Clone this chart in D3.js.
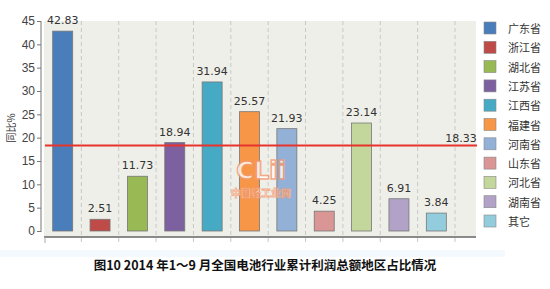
<!DOCTYPE html>
<html>
<head>
<meta charset="utf-8">
<script src="https://cdn.jsdelivr.net/npm/d3@7"></script>
<style>
  body { margin: 0; background: #fff; }
  text { font-family: "Noto Sans CJK SC", "DejaVu Sans", sans-serif; }
</style>
</head>
<body>
<div id="chart"></div>
<script>
// Data
const regions = ["广东省", "浙江省", "湖北省", "江苏省", "江西省", "福建省", "河南省", "山东省", "河北省", "湖南省", "其它"];
const values = [42.83, 2.51, 11.73, 18.94, 31.94, 25.57, 21.93, 4.25, 23.14, 6.91, 3.84];
const average = 18.33;
const yTicks = [0, 5, 10, 15, 20, 25, 30, 35, 40, 45];
const colorList = ["#4a7ebb", "#be4b48", "#98b954", "#7d60a0", "#46aac5", "#f79646", "#93b1d6", "#d99694", "#c3d69b", "#b3a2c7", "#93cddd"];

const W = 550, H = 289;
const plot = { left: 44, right: 476, top: 21, bottom: 231 };

const svg = d3.select("#chart").append("svg")
  .attr("width", W).attr("height", H);

// light strip under chart
svg.append("rect").attr("x", 0).attr("y", 250).attr("width", 505).attr("height", 7)
  .attr("fill", "#f3f9fd");

// plot background
svg.append("rect")
  .attr("x", plot.left).attr("y", plot.top)
  .attr("width", plot.right - plot.left).attr("height", 237 - plot.top)
  .attr("fill", "#efefe9");

const x = d3.scaleBand().domain(regions).range([44, 455]).paddingInner(0).paddingOuter(0);
const y = d3.scaleLinear().domain([0, 45]).range([plot.bottom, plot.top]);
const colors = d3.scaleOrdinal(regions, colorList);

// dashed vertical gridlines at band edges
const edges = regions.map((r) => x(r) + x.bandwidth());
svg.selectAll(".grid").data(edges).enter().append("line")
  .attr("x1", (d) => d).attr("x2", (d) => d)
  .attr("y1", plot.top).attr("y2", 243)
  .attr("stroke", "#c8c8c8").attr("stroke-dasharray", "4,3");

// y axis
const yAxis = svg.append("g")
  .attr("transform", "translate(41,0)")
  .call(d3.axisLeft(y).tickValues(yTicks).tickSize(4).tickPadding(2));
yAxis.select(".domain").attr("stroke", "#777").attr("d", "M0," + plot.top + "V" + (plot.bottom + 1));
yAxis.selectAll(".tick line").attr("stroke", "#777");
yAxis.selectAll(".tick text").attr("fill", "#444").style("font-size", "12px")
  .style("font-family", "'Liberation Sans', Arial, sans-serif");

// bottom axis line
svg.append("line")
  .attr("x1", 44).attr("x2", plot.right)
  .attr("y1", 237).attr("y2", 237)
  .attr("stroke", "#666").attr("stroke-width", 1.5);
svg.append("line")
  .attr("x1", 45).attr("x2", 45).attr("y1", 237).attr("y2", 243)
  .attr("stroke", "#aaa");

// y label
svg.append("text")
  .attr("transform", "translate(15,128) rotate(-90)")
  .attr("text-anchor", "middle")
  .attr("fill", "#333").style("font-size", "10px")
  .text("同比%");

// bars
const bw = 20;
const bars = svg.selectAll(".bar").data(regions).enter();
bars.append("rect")
  .attr("x", (d) => x(d) + (x.bandwidth() - bw) / 2)
  .attr("y", (d, i) => y(values[i]))
  .attr("width", bw)
  .attr("height", (d, i) => y(0) - y(values[i]))
  .attr("fill", (d) => colors(d))
  .attr("stroke", "#777").attr("stroke-width", 0.8);

bars.append("text")
  .attr("x", (d) => x(d) + x.bandwidth() / 2)
  .attr("y", (d, i) => y(values[i]) - 7)
  .attr("text-anchor", "middle")
  .attr("fill", "#333")
  .style("font-size", "11px")
  .style("font-family", "'DejaVu Sans', sans-serif")
  .text((d, i) => values[i].toFixed(2));

// watermark
const wm = svg.append("g").attr("opacity", 0.8);
wm.append("text").attr("x", 261).attr("y", 179).attr("text-anchor", "middle")
  .attr("fill", "#fff").attr("stroke", "#f39a70").attr("stroke-width", 1.5)
  .style("font-size", "24px").style("font-weight", "bold")
  .style("font-family", "'DejaVu Sans', sans-serif")
  .text("CLii");
wm.append("text").attr("x", 261).attr("y", 197).attr("text-anchor", "middle")
  .attr("fill", "#fff").attr("stroke", "#f39a70").attr("stroke-width", 0.8)
  .style("font-size", "10px").style("font-weight", "bold")
  .text("中国轻工业网");

// average line
svg.append("line")
  .attr("x1", 45).attr("x2", 477)
  .attr("y1", y(average)).attr("y2", y(average))
  .attr("stroke", "#e8322c").attr("stroke-width", 2);
svg.append("text")
  .attr("x", 461).attr("y", y(average) - 3)
  .attr("text-anchor", "middle")
  .attr("fill", "#333")
  .style("font-size", "11px")
  .style("font-family", "'DejaVu Sans', sans-serif")
  .text(average.toFixed(2));

// legend
const leg = svg.selectAll(".leg").data(regions).enter().append("g")
  .attr("transform", (d, i) => "translate(484," + (22 + i * 19.3) + ")");
leg.append("rect").attr("width", 12).attr("height", 12)
  .attr("fill", (d) => colors(d)).attr("stroke", "#888").attr("stroke-width", 0.6);
leg.append("text").attr("x", 24).attr("y", 11)
  .attr("fill", "#333").style("font-size", "11px")
  .text((d) => d);

// title
svg.append("text")
  .attr("x", 265).attr("y", 270)
  .attr("text-anchor", "middle")
  .attr("fill", "#111")
  .style("font-size", "12.5px").style("font-weight", "bold")
  .style("font-family", "'Noto Sans CJK SC', serif")
  .text("图10 2014 年1～9 月全国电池行业累计利润总额地区占比情况");
</script>
</body>
</html>
